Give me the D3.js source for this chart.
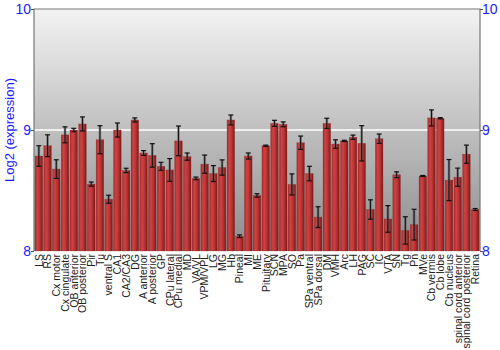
<!DOCTYPE html>
<html>
<head>
<meta charset="utf-8">
<script src="https://cdn.jsdelivr.net/npm/d3@7"></script>
<style>
  body { margin: 0; background: #fff; }
  svg { display: block; font-family: "Liberation Sans", Arial, sans-serif; }
</style>
</head>
<body>
<div id="chart"></div>
<script>
const regions = ["LS", "RS", "Cx motor", "Cx cingulate", "OB anterior", "OB posterior", "Pir", "Tu",
    "ventral S", "CA1", "CA2/CA3", "DG", "A anterior", "A posterior", "GP", "CPu lateral", "CPu medial",
    "MD", "VA/VL", "VPM/VPL", "LG", "MG", "Hb", "Pineal", "MI", "ME", "Pituitary", "SCN", "MPA", "SO",
    "Pa", "SPa ventral", "SPa dorsal", "DM", "VMH", "Arc", "LH", "PAG", "SC", "IC", "VTA", "SN", "Tg",
    "Pn", "MVe", "Cb vermis", "Cb lobe", "Cb nucleus", "spinal cord anterior", "spinal cord posterior", "Retina"];

const expression = [8.785, 8.87, 8.677, 8.96, 9.0, 9.05, 8.553, 8.92,
    8.428, 9.0, 8.666, 9.083, 8.81, 8.79, 8.70, 8.67, 8.91,
    8.78, 8.60, 8.718, 8.64, 8.69, 9.083, 8.122, 8.785, 8.459, 8.87, 9.055, 9.047, 8.55,
    8.895, 8.64, 8.28, 9.055, 8.884, 8.91, 8.94, 8.89, 8.343, 8.928, 8.265, 8.63, 8.17,
    8.218, 8.62, 9.10, 9.097, 8.586, 8.61, 8.80, 8.343];

const errors = [0.085, 0.09, 0.077, 0.066, 0.014, 0.058, 0.017, 0.116,
    0.033, 0.058, 0.018, 0.017, 0.02, 0.097, 0.033, 0.094, 0.123,
    0.03, 0.011, 0.075, 0.066, 0.063, 0.041, 0.011, 0.025, 0.014, 0.005, 0.025, 0.02, 0.087,
    0.055, 0.06, 0.086, 0.042, 0.035, 0.005, 0.018, 0.146, 0.08, 0.039, 0.11, 0.024, 0.113,
    0.127, 0.004, 0.066, 0.005, 0.17, 0.075, 0.075, 0.008];

const yTicks = [8, 9, 10];

const width = 500, height = 350;
const margin = { top: 9, right: 20, bottom: 99, left: 34 };

const svg = d3.select("#chart").append("svg")
    .attr("width", width)
    .attr("height", height);

const x = d3.scaleBand()
    .domain(regions)
    .range([margin.left, width - margin.right])
    .paddingInner(0.13)
    .paddingOuter(0.12);

const y = d3.scaleLinear()
    .domain([8, 10])
    .range([height - margin.bottom, margin.top]);

const defs = svg.append("defs");
const bg = defs.append("linearGradient")
    .attr("id", "bg-grad")
    .attr("x1", 0).attr("y1", 0).attr("x2", 0).attr("y2", 1);
bg.append("stop").attr("offset", "0%").attr("stop-color", "#f3f3f3");
bg.append("stop").attr("offset", "60%").attr("stop-color", "#b5b5b5");
bg.append("stop").attr("offset", "100%").attr("stop-color", "#8c8c8c");

const barGrad = defs.append("linearGradient")
    .attr("id", "bar-grad")
    .attr("x1", 0).attr("y1", 0).attr("x2", 1).attr("y2", 0);
barGrad.append("stop").attr("offset", "0%").attr("stop-color", "#a82a2a");
barGrad.append("stop").attr("offset", "30%").attr("stop-color", "#cc4444");
barGrad.append("stop").attr("offset", "65%").attr("stop-color", "#b83030");
barGrad.append("stop").attr("offset", "100%").attr("stop-color", "#7c1818");

// plot background
svg.append("rect")
    .attr("x", margin.left)
    .attr("y", margin.top)
    .attr("width", width - margin.right - margin.left)
    .attr("height", y(8) - margin.top)
    .attr("fill", "url(#bg-grad)");

// grid line at 9
svg.append("line")
    .attr("x1", margin.left).attr("x2", width - margin.right)
    .attr("y1", y(9)).attr("y2", y(9))
    .attr("stroke", "#ffffff")
    .attr("stroke-width", 1.5);

// bars
svg.append("g")
    .selectAll("rect")
    .data(regions)
    .join("rect")
    .attr("x", (d) => x(d))
    .attr("y", (d, i) => y(expression[i]))
    .attr("width", x.bandwidth())
    .attr("height", (d, i) => y(8) - y(expression[i]))
    .attr("fill", "url(#bar-grad)")
    .attr("stroke", "#8a1f1f")
    .attr("stroke-opacity", 0.5)
    .attr("stroke-width", 0.5);

// error bars
const errG = svg.append("g");
regions.forEach((r, i) => {
    const cx = x(r) + x.bandwidth() / 2;
    const y1 = y(expression[i] + errors[i]);
    const y2 = y(expression[i] - errors[i]);
    errG.append("line")
        .attr("x1", cx).attr("x2", cx).attr("y1", y1).attr("y2", y2)
        .attr("stroke", "#555").attr("stroke-opacity", 0.6).attr("stroke-width", 2.5);
    errG.append("line")
        .attr("x1", cx).attr("x2", cx).attr("y1", y1).attr("y2", y2)
        .attr("stroke", "#111").attr("stroke-width", 1);
    [y1, y2].forEach((yy) => {
        errG.append("line")
            .attr("x1", cx - 2.5).attr("x2", cx + 2.5).attr("y1", yy).attr("y2", yy)
            .attr("stroke", "#111").attr("stroke-width", 1.2);
    });
});

// frame
const frame = svg.append("g").attr("stroke", "#777").attr("stroke-width", 1.2).attr("fill", "none");
frame.append("path")
    .attr("d", `M${margin.left},${y(8)}V${margin.top}H${width - margin.right}V${y(8)}`);

// y axes
const axisLeft = svg.append("g")
    .attr("transform", `translate(${margin.left},0)`)
    .call(d3.axisLeft(y).tickValues(yTicks).tickSize(3).tickFormat(d3.format("d")));
const axisRight = svg.append("g")
    .attr("transform", `translate(${width - margin.right},0)`)
    .call(d3.axisRight(y).tickValues(yTicks).tickSize(3).tickFormat(d3.format("d")));
[axisLeft, axisRight].forEach((g) => {
    g.select(".domain").remove();
    g.selectAll(".tick line").attr("stroke", "#555");
    g.selectAll(".tick text")
        .attr("fill", "#1a1aff")
        .style("font-size", "14px")
        .style("font-family", "'Liberation Sans', Arial, sans-serif");
});
axisLeft.selectAll(".tick text").attr("x", -3);
axisRight.selectAll(".tick text").attr("x", 2);

// x labels
svg.append("g")
    .selectAll("text")
    .data(regions)
    .join("text")
    .attr("transform", (d) => `translate(${x(d) + x.bandwidth() / 2 + 3.8},${y(8) + 3}) rotate(-90)`)
    .attr("text-anchor", "end")
    .attr("fill", "#222")
    .style("font-size", "10.5px")
    .text((d) => d);

// y title
svg.append("text")
    .attr("transform", `translate(14,${(margin.top + y(8)) / 2}) rotate(-90)`)
    .attr("text-anchor", "middle")
    .attr("fill", "#1a1aff")
    .style("font-size", "13px")
    .text("Log2 (expression)");
</script>
</body>
</html>
